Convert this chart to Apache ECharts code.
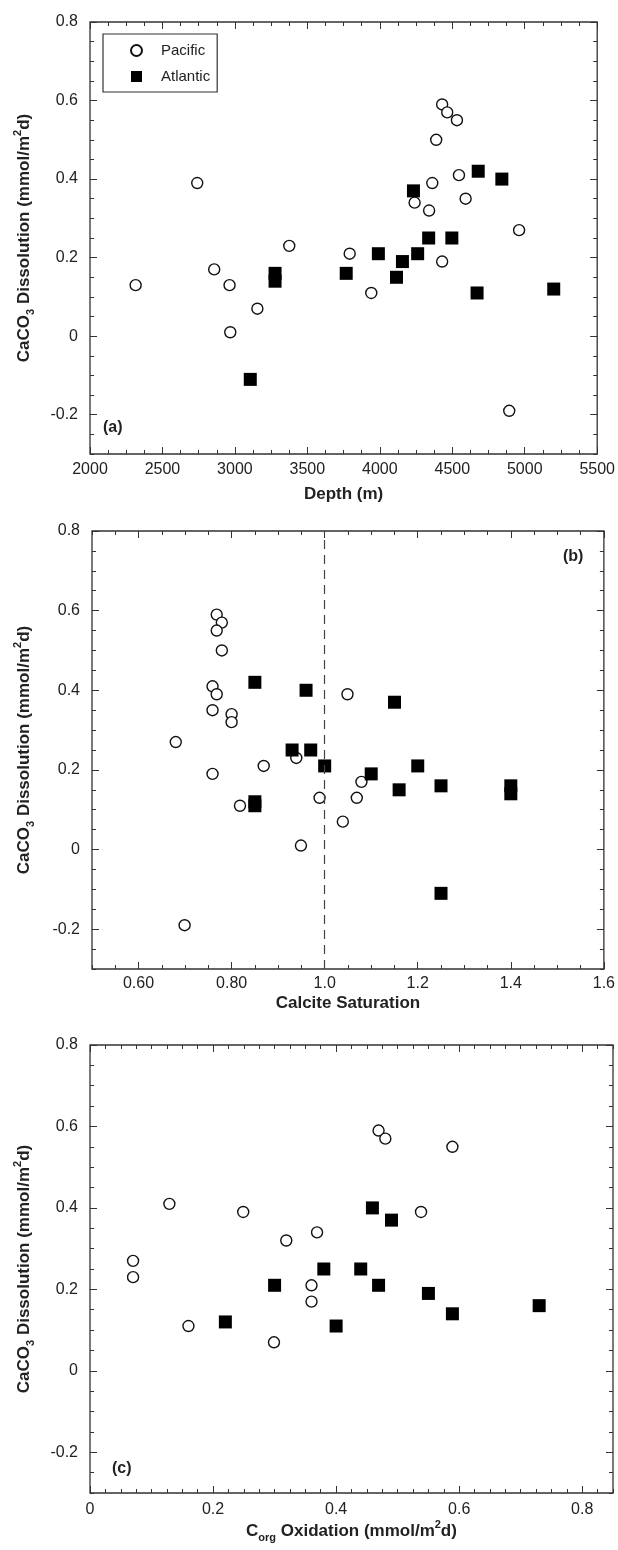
<!DOCTYPE html>
<html>
<head>
<meta charset="utf-8">
<script src="https://cdn.jsdelivr.net/npm/echarts@6/dist/echarts.min.js"></script>
<style>
  html, body { margin: 0; padding: 0; background: #fff; }
  #chart { width: 618px; height: 1550px; }
</style>
</head>
<body>
<div id="chart"></div>
<script>
// ---- data ----
// (a) depth vs dissolution
const pacDepth = [2315, 2740, 2857, 2963, 2968, 3155, 3375, 3792, 3941, 4240, 4340, 4362, 4389, 4430, 4465, 4532, 4546, 4592, 4430, 4893, 4961];
const pacDissA = [0.13, 0.39, 0.17, 0.13, 0.01, 0.07, 0.23, 0.21, 0.11, 0.34, 0.32, 0.39, 0.50, 0.59, 0.57, 0.55, 0.41, 0.35, 0.19, -0.19, 0.27];
const atlDepth = [3106, 3277, 3277, 3768, 3990, 4115, 4156, 4232, 4261, 4337, 4497, 4671, 4679, 4842, 5200];
const atlDissA = [-0.11, 0.16, 0.14, 0.16, 0.21, 0.15, 0.19, 0.37, 0.21, 0.25, 0.25, 0.11, 0.42, 0.40, 0.12];

// (b) calcite saturation vs dissolution
const pacSat = [0.768, 0.779, 0.768, 0.779, 0.759, 0.768, 0.759, 0.80, 0.80, 0.68, 0.759, 0.818, 0.869, 0.939, 0.949, 0.989, 1.079, 1.069, 1.039, 1.049, 0.699];
const pacDissB = [0.59, 0.57, 0.55, 0.50, 0.41, 0.39, 0.35, 0.34, 0.32, 0.27, 0.19, 0.11, 0.21, 0.23, 0.01, 0.13, 0.17, 0.13, 0.07, 0.39, -0.19];
const atlSat = [0.85, 0.96, 1.15, 0.93, 0.97, 1.00, 1.10, 1.20, 1.16, 1.25, 1.40, 1.40, 0.85, 0.85, 1.25];
const atlDissB = [0.42, 0.40, 0.37, 0.25, 0.25, 0.21, 0.19, 0.21, 0.15, 0.16, 0.16, 0.14, 0.12, 0.11, -0.11];
const satLine = 1.0;

// (c) Corg oxidation vs dissolution
const pacCorg = [0.07, 0.07, 0.129, 0.16, 0.249, 0.299, 0.319, 0.36, 0.36, 0.369, 0.469, 0.48, 0.538, 0.589];
const pacDissC = [0.27, 0.23, 0.41, 0.11, 0.39, 0.07, 0.32, 0.21, 0.17, 0.34, 0.59, 0.57, 0.39, 0.55];
const atlCorg = [0.22, 0.30, 0.38, 0.40, 0.44, 0.459, 0.469, 0.49, 0.55, 0.589, 0.73];
const atlDissC = [0.12, 0.21, 0.25, 0.11, 0.25, 0.40, 0.21, 0.37, 0.19, 0.14, 0.16];

// tick labels
const dissTicks = [-0.2, 0, 0.2, 0.4, 0.6, 0.8];
const depthTicks = [2000, 2500, 3000, 3500, 4000, 4500, 5000, 5500];
const satTicks = [0.6, 0.8, 1.0, 1.2, 1.4, 1.6];
const satTickText = ['0.60', '0.80', '1.0', '1.2', '1.4', '1.6'];
const corgTicks = [0, 0.2, 0.4, 0.6, 0.8];

const FONT = 'Liberation Sans, Arial, Helvetica, sans-serif';
const INK = '#222';

const nameStyle = {
  fontFamily: FONT, fontSize: 17, fontWeight: 'bold', color: INK,
  rich: {
    t: { fontFamily: FONT, fontSize: 17, fontWeight: 'bold', color: INK, lineHeight: 24, verticalAlign: 'middle' },
    sub: { fontFamily: FONT, fontSize: 11, fontWeight: 'bold', color: INK, lineHeight: 24, verticalAlign: 'bottom' },
    sup: { fontFamily: FONT, fontSize: 11, fontWeight: 'bold', color: INK, lineHeight: 24, verticalAlign: 'top' }
  }
};
const dissName = '{t|CaCO}{sub|3}{t| Dissolution (mmol/m}{sup|2}{t|d)}';

function steps(min, max, step) {
  const out = [];
  for (let v = min; v <= max + 1e-9; v += step) out.push(+v.toFixed(4));
  return out;
}

// 4 axes per dimension and grid: main side major+labels, main side minor, mirror major, mirror minor
function axesFor(dim, gi, min, max, minorStep, majors, fmt, name, nameGap, margin) {
  const sides = dim === 'x' ? ['bottom', 'top'] : ['left', 'right'];
  const minors = steps(min, max, minorStep).filter(v => !majors.some(m => Math.abs(m - v) < 1e-6));
  const tickLine = { color: '#333', width: 1 };
  const noLine = { show: false, onZero: false };
  const out = [];
  sides.forEach((pos, k) => {
    out.push({
      type: 'value', gridIndex: gi, min: min, max: max, position: pos,
      axisLine: noLine, splitLine: { show: false },
      name: k === 0 ? name : '', nameLocation: 'middle', nameGap: nameGap, nameTextStyle: nameStyle,
      axisTick: { inside: true, length: 7, customValues: majors, lineStyle: tickLine },
      axisLabel: k === 0 ? {
        customValues: majors, formatter: fmt, margin: margin,
        fontFamily: FONT, fontSize: 16, color: INK, showMinLabel: true, showMaxLabel: true
      } : { show: false }
    });
    out.push({
      type: 'value', gridIndex: gi, min: min, max: max, position: pos,
      axisLine: noLine, splitLine: { show: false },
      axisTick: { inside: true, length: 4, customValues: minors, lineStyle: tickLine },
      axisLabel: { show: false }
    });
  });
  return out;
}

const dissFmt = v => {
  const r = Math.round(v * 10) / 10;
  return r === 0 ? '0' : r.toFixed(1);
};

const xAxes = [].concat(
  axesFor('x', 0, 2000, 5500, 125, depthTicks, v => String(Math.round(v)), 'Depth (m)', 32, 8),
  axesFor('x', 1, 0.5, 1.6, 0.05, satTicks, v => {
    const i = satTicks.findIndex(t => Math.abs(t - v) < 1e-6);
    return i >= 0 ? satTickText[i] : '';
  }, 'Calcite Saturation', 26, 7),
  axesFor('x', 2, 0, 0.85, 0.025, corgTicks, v => {
    const r = Math.round(v * 10) / 10;
    return r === 0 ? '0' : r.toFixed(1);
  }, '{t|C}{sub|org}{t| Oxidation (mmol/m}{sup|2}{t|d)}', 26, 9)
);
const yAxes = [].concat(
  axesFor('y', 0, -0.3, 0.8, 0.05, dissTicks, dissFmt, dissName, 54, 12),
  axesFor('y', 1, -0.3, 0.8, 0.05, dissTicks, dissFmt, dissName, 56, 12),
  axesFor('y', 2, -0.3, 0.8, 0.05, dissTicks, dissFmt, dissName, 54, 12)
);

const pacStyle = { color: '#fff', borderColor: '#111', borderWidth: 1.4, opacity: 1 };
const atlStyle = { color: '#000', borderColor: '#000', borderWidth: 0, opacity: 1 };

function zip(xs, ys) { return xs.map((x, i) => [x, ys[i]]); }

function pac(gi, xs, ys) {
  return {
    name: 'Pacific', type: 'scatter', xAxisIndex: gi * 4, yAxisIndex: gi * 4,
    symbol: 'circle', symbolSize: 11, itemStyle: pacStyle, z: 3,
    data: zip(xs, ys)
  };
}
function atl(gi, xs, ys) {
  return {
    name: 'Atlantic', type: 'scatter', xAxisIndex: gi * 4, yAxisIndex: gi * 4,
    symbol: 'rect', symbolSize: 13, itemStyle: atlStyle, z: 4,
    data: zip(xs, ys)
  };
}

const satSeries = atl(1, atlSat, atlDissB);
satSeries.markLine = {
  silent: true, symbol: 'none', label: { show: false },
  lineStyle: { color: '#444', width: 1.2, type: [9, 6] },
  data: [{ xAxis: satLine }]
};

const chart = echarts.init(document.getElementById('chart'), null, { renderer: 'canvas' });
chart.setOption({
  backgroundColor: '#fff',
  animation: false,
  grid: [
    { left: 90, top: 22, width: 508, height: 432, show: true, borderColor: '#333', borderWidth: 1.3, backgroundColor: 'transparent' },
    { left: 92, top: 531, width: 512, height: 438, show: true, borderColor: '#333', borderWidth: 1.3, backgroundColor: 'transparent' },
    { left: 90, top: 1045, width: 523, height: 448, show: true, borderColor: '#333', borderWidth: 1.3, backgroundColor: 'transparent' }
  ],
  legend: {
    left: 103, top: 34, orient: 'vertical',
    data: [{ name: 'Pacific', icon: 'circle' }, { name: 'Atlantic', icon: 'rect' }],
    itemWidth: 11, itemHeight: 11, itemGap: 11,
    padding: [9, 7, 8, 27],
    borderColor: '#333', borderWidth: 1.2,
    textStyle: { fontFamily: FONT, fontSize: 15, color: INK, padding: [0, 0, 0, 14] }
  },
  xAxis: xAxes,
  yAxis: yAxes,
  graphic: [
    { type: 'text', left: 103, top: 420, style: { text: '(a)', font: 'bold 16px ' + FONT, fill: INK } },
    { type: 'text', left: 563, top: 549, style: { text: '(b)', font: 'bold 16px ' + FONT, fill: INK } },
    { type: 'text', left: 112, top: 1461, style: { text: '(c)', font: 'bold 16px ' + FONT, fill: INK } }
  ],
  series: [
    pac(0, pacDepth, pacDissA), atl(0, atlDepth, atlDissA),
    pac(1, pacSat, pacDissB), satSeries,
    pac(2, pacCorg, pacDissC), atl(2, atlCorg, atlDissC)
  ]
});
</script>
</body>
</html>
